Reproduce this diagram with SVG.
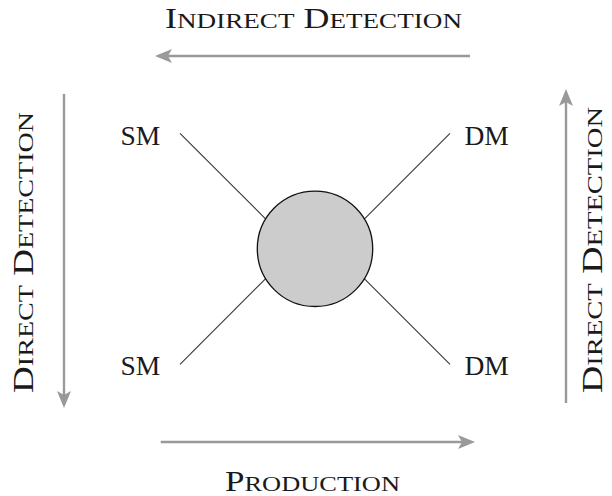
<svg xmlns="http://www.w3.org/2000/svg" width="612" height="496" viewBox="0 0 612 496">
  <style>
    .lbl { font-family: "Liberation Serif", "Times New Roman", serif; font-size: 27.5px; fill: #1a1a1a; }
    .title { font-family: "Liberation Serif", "Times New Roman", serif; font-size: 28.5px; fill: #1a1a1a; }
    .sc { font-size: 21.5px; }
    .arrow { stroke: #999999; stroke-width: 2.4; fill: none; marker-end: url(#head); }
    .leg { stroke: #333333; stroke-width: 1.1; fill: none; }
    .blob { fill: #cccccc; stroke: #111111; stroke-width: 1.3; }
  </style>
  <defs>
    <marker id="head" viewBox="-20 -10 20 20" refX="-12" refY="0" markerWidth="20" markerHeight="20" markerUnits="userSpaceOnUse" orient="auto">
      <path d="M0,0 L-17,-7 L-13,0 L-17,7 Z" fill="#999999"/>
    </marker>
  </defs>

  <g id="connectors">
    <line class="leg" x1="180" y1="133.3" x2="272" y2="225.3"/>
    <line class="leg" x1="450" y1="133.3" x2="358" y2="225.3"/>
    <line class="leg" x1="180" y1="364.3" x2="272" y2="272.3"/>
    <line class="leg" x1="450" y1="364.3" x2="358" y2="272.3"/>
    <line class="arrow" x1="470" y1="56" x2="167" y2="56"/>
    <line class="arrow" x1="160.7" y1="442" x2="463" y2="442"/>
    <line class="arrow" x1="64" y1="94" x2="64" y2="396"/>
    <line class="arrow" x1="566" y1="403" x2="566" y2="101"/>
  </g>

  <g id="vertex">
    <circle class="blob" cx="315" cy="248.8" r="57.7"/>
  </g>

  <g id="sm-top"><text class="lbl" x="120.5" y="144.5">SM</text></g>
  <g id="dm-top"><text class="lbl" x="464.5" y="144.5">DM</text></g>
  <g id="sm-bottom"><text class="lbl" x="120.5" y="374.5">SM</text></g>
  <g id="dm-bottom"><text class="lbl" x="464.5" y="374.5">DM</text></g>

  <g id="indirect-detection">
    <text class="title" x="313.5" y="28" text-anchor="middle" textLength="297" lengthAdjust="spacingAndGlyphs">I<tspan class="sc">NDIRECT</tspan> D<tspan class="sc">ETECTION</tspan></text>
  </g>
  <g id="production">
    <text class="title" x="312.5" y="491" text-anchor="middle" textLength="175" lengthAdjust="spacingAndGlyphs">P<tspan class="sc">RODUCTION</tspan></text>
  </g>
  <g id="direct-detection-left">
    <text class="title" transform="translate(33,252.5) rotate(-90)" x="0" y="0" text-anchor="middle" textLength="281" lengthAdjust="spacingAndGlyphs">D<tspan class="sc">IRECT</tspan> D<tspan class="sc">ETECTION</tspan></text>
  </g>
  <g id="direct-detection-right">
    <text class="title" transform="translate(601.5,250) rotate(-90)" x="0" y="0" text-anchor="middle" textLength="286" lengthAdjust="spacingAndGlyphs">D<tspan class="sc">IRECT</tspan> D<tspan class="sc">ETECTION</tspan></text>
  </g>
</svg>
